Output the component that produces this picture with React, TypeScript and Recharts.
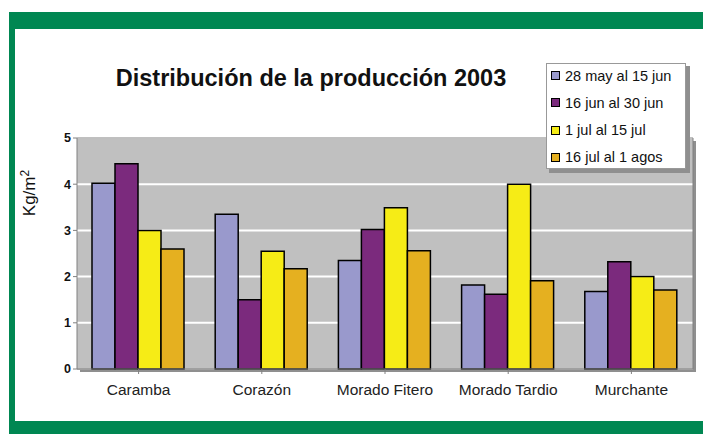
import { BarChart, Bar, XAxis, YAxis, CartesianGrid, ReferenceArea } from 'recharts'

const varieties = ['Caramba', 'Corazón', 'Morado Fitero', 'Morado Tardio', 'Murchante']
const periods = ['28 may al 15 jun', '16 jun al 30 jun', '1 jul al 15 jul', '16 jul al 1 agos']
const colors = ['#9999cc', '#7b2a7d', '#f6ec16', '#e5b020']

const may28 = [4.02, 3.35, 2.35, 1.82, 1.68]
const jun16 = [4.44, 1.5, 3.02, 1.62, 2.32]
const jul1 = [3.0, 2.55, 3.49, 4.0, 2.0]
const jul16 = [2.6, 2.17, 2.56, 1.91, 1.71]
const yTicks = [0, 1, 2, 3, 4, 5]

const series = [may28, jun16, jul1, jul16]
const data = varieties.map((name, i) => {
  const row: any = { name }
  series.forEach((s, j) => { row['s' + j] = s[i] })
  return row
})

const green = '#008752'
const font = '"Liberation Sans", Arial, sans-serif'

const App = () => {
  return (
    <div style={{ position: 'absolute', left: 0, top: 0, width: 703, height: 434, background: '#fff', fontFamily: font }}>
      <div style={{ position: 'absolute', left: 9, top: 12, width: 694, height: 17, background: green }} />
      <div style={{ position: 'absolute', left: 9, top: 12, width: 6, height: 422, background: green }} />
      <div style={{ position: 'absolute', left: 9, top: 421, width: 694, height: 13, background: green }} />

      {/* plot shadow */}
      <div style={{ position: 'absolute', left: 80, top: 141, width: 616, height: 231, background: '#8f8f8f' }} />

      <div style={{ position: 'absolute', left: 0, top: 0 }}>
        <BarChart
          width={703}
          height={434}
          data={data}
          margin={{ top: 138, right: 10, bottom: 35, left: 47 }}
          barCategoryGap={15}
          barGap={0}
        >
          <CartesianGrid vertical={false} stroke="#ffffff" strokeWidth={2} fill="#c0c0c0" fillOpacity={1} />
          <ReferenceArea y1={0} y2={5} fill="none" stroke="#808080" strokeWidth={1} ifOverflow="visible" />
          <XAxis
            dataKey="name"
            height={30}
            axisLine={{ stroke: '#808080' }}
            tickLine={{ stroke: '#808080' }}
            tick={{ fill: '#222', fontSize: 15.5, fontFamily: font }}
            tickSize={5}
            tickMargin={10}
          />
          <YAxis
            width={30}
            domain={[0, 5]}
            ticks={yTicks}
            interval={0}
            axisLine={false}
            tickLine={{ stroke: '#808080' }}
            tickSize={4}
            tick={{ fill: '#111', fontSize: 12.5, fontWeight: 'bold', fontFamily: font }}
          />
          {series.map((_, j) => (
            <Bar
              key={j}
              dataKey={'s' + j}
              name={periods[j]}
              fill={colors[j]}
              stroke="#000"
              strokeWidth={1.5}
              isAnimationActive={false}
            />
          ))}
        </BarChart>
      </div>

      <div style={{ position: 'absolute', left: 0, width: 622, top: 63, textAlign: 'center', fontSize: 23.5, fontWeight: 'bold', color: '#111', lineHeight: '30px' }}>
        Distribución de la producción 2003
      </div>

      <div style={{ position: 'absolute', left: 29, top: 193, width: 0, height: 0 }}>
        <div style={{ position: 'absolute', transform: 'translate(-50%, -50%) rotate(-90deg)', fontSize: 17, color: '#111', whiteSpace: 'nowrap' }}>
          Kg/m<sup style={{ fontSize: 12 }}>2</sup>
        </div>
      </div>

      {/* legend */}
      <div style={{ position: 'absolute', left: 549, top: 66, width: 141, height: 107, background: '#8f8f8f' }} />
      <div style={{ position: 'absolute', left: 546, top: 63, width: 140, height: 106, background: '#fff', border: '1px solid #999', boxSizing: 'border-box' }}>
        {periods.map((p, j) => (
          <div key={j} style={{ position: 'absolute', left: 4, top: j * 27.3 - 2, display: 'flex', alignItems: 'center', height: 27, fontSize: 14.5, color: '#111', whiteSpace: 'nowrap' }}>
            <span style={{ display: 'inline-block', width: 7, height: 7, background: colors[j], border: '1.5px solid #000', marginRight: 5 }} />
            {p}
          </div>
        ))}
      </div>
    </div>
  )
}

export default App
